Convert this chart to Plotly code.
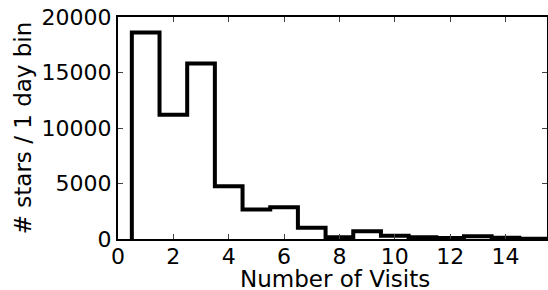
import plotly.graph_objects as go

bin_edges = [0.5, 1.5, 2.5, 3.5, 4.5, 5.5, 6.5, 7.5, 8.5, 9.5, 10.5, 11.5, 12.5, 13.5, 14.5, 15.5]
counts = [18600, 11200, 15800, 4750, 2650, 2850, 1020, 150, 690, 300, 150, 90, 240, 120, 30]
x_ticks = [0, 2, 4, 6, 8, 10, 12, 14]
y_ticks = [0, 5000, 10000, 15000, 20000]
x_title = "Number of Visits"
y_title = "# stars / 1 day bin"

# build step outline
xs = [bin_edges[0]]
ys = [0]
for i, c in enumerate(counts):
    xs += [bin_edges[i], bin_edges[i + 1]]
    ys += [c, c]
xs.append(bin_edges[-1])
ys.append(0)

fig = go.Figure(go.Scatter(x=xs, y=ys, mode="lines",
                           line=dict(color="black", width=4), showlegend=False))

font = dict(family="DejaVu Sans", size=22, color="black")
title_font = dict(family="DejaVu Sans", size=23, color="black")
fig.update_layout(
    width=548, height=290,
    margin=dict(l=118, r=1, t=17, b=51),
    plot_bgcolor="white", paper_bgcolor="white",
    font=font,
    xaxis=dict(range=[0, 15.5], tickvals=x_ticks, ticktext=[str(v) for v in x_ticks],
               ticks="inside", ticklen=5, ticklabelstandoff=-3,
               tickwidth=1, mirror="ticks", showline=True, linewidth=2,
               linecolor="black", showgrid=False, zeroline=False, automargin=False,
               tickfont=font),
    yaxis=dict(range=[0, 20000], tickvals=y_ticks, ticktext=[str(v) for v in y_ticks],
               ticks="inside", ticklen=5,
               tickwidth=1, mirror="ticks", showline=True, linewidth=2,
               linecolor="black", showgrid=False, zeroline=False, automargin=False,
               title=dict(text=y_title, font=title_font, standoff=4),
               tickfont=font),
    annotations=[dict(text=x_title, font=title_font, xref="paper", yref="paper",
                      x=0.505, y=0, xanchor="center", yanchor="top", yshift=-25,
                      showarrow=False)],
)
fig.write_html("out.html", config={"displayModeBar": False},
               post_script="document.body.style.margin='0';document.body.style.overflow='hidden';")
